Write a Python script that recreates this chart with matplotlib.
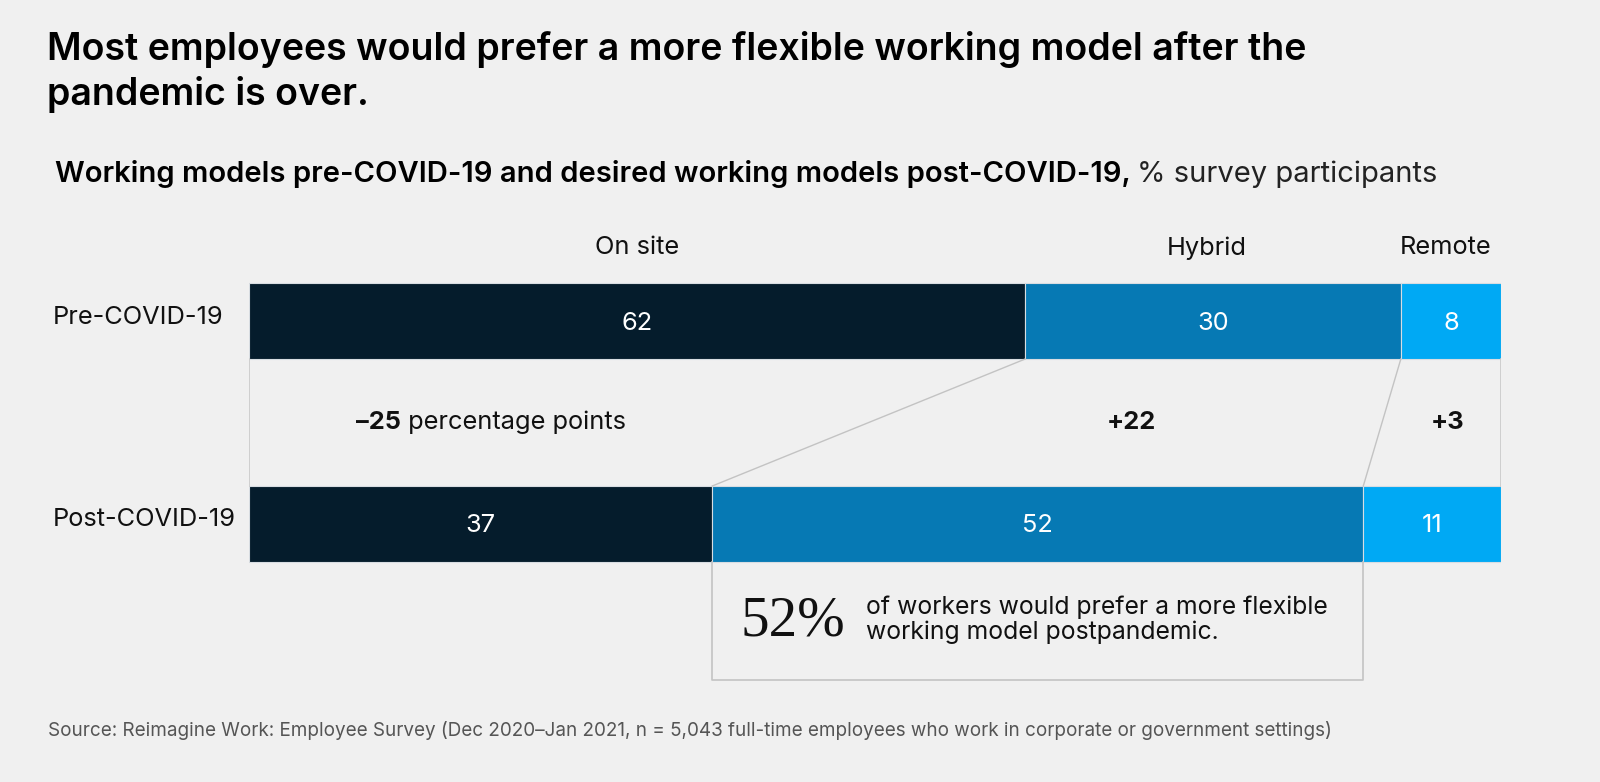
import matplotlib
matplotlib.use("Agg")
import matplotlib.pyplot as plt

# data
models = ["On site", "Hybrid", "Remote"]
periods = ["Pre-COVID-19", "Post-COVID-19"]
pre_values = [62, 30, 8]
post_values = [37, 52, 11]
colours = ["#051c2c", "#0679b4", "#00a9f4"]

W, H = 1600, 782
BG = "#f0f0f0"
TXT = 18.3
plt.rcParams["font.family"] = ["Inter", "DejaVu Sans"]

fig = plt.figure(figsize=(W / 100, H / 100), dpi=100, facecolor=BG)


def fx(px):
    return px / W


def fy(py):
    return 1 - py / H


# axes: x in percent, y in pixels from top
ax = fig.add_axes([fx(249), 0, fx(1501) - fx(249), 1])
ax.set_xlim(0, 100)
ax.set_ylim(H, 0)
ax.axis("off")
ax.patch.set_alpha(0)

rows = {"Pre-COVID-19": (321, pre_values), "Post-COVID-19": (524, post_values)}
bar_h = 76

for name, (yc, vals) in rows.items():
    left = 0
    for v, c in zip(vals, colours):
        ax.barh(yc, v, left=left, height=bar_h, color=c, edgecolor="#d8dde2", linewidth=0.8)
        ax.text(left + v / 2, yc + 2, str(v), ha="center", va="center", color="white", fontsize=TXT)
        left += v
    fig.text(fx(53), fy(yc - 4), name, ha="left", va="center", fontsize=TXT, color="#111111")

# middle band borders
top_band, bot_band = 321 + bar_h / 2, 524 - bar_h / 2
ax.plot([0, 0], [top_band, bot_band], color="#c9c9c9", lw=1.2)
ax.plot([100, 100], [top_band, bot_band], color="#c9c9c9", lw=1.2)

# connector lines between the bars
pre_cum = [sum(pre_values[:i + 1]) for i in range(2)]
post_cum = [sum(post_values[:i + 1]) for i in range(2)]
for a, b in zip(pre_cum, post_cum):
    ax.plot([a, b], [top_band, bot_band], color="#c3c3c3", lw=1.0)

# column headers
header_x = [637, 1207, 1446]
for m, hx in zip(models, header_x):
    fig.text(fx(hx), fy(248), m, ha="center", va="center", fontsize=TXT, color="#111111")

# change labels
diffs = [b - a for a, b in zip(pre_values, post_values)]
yc = (top_band + bot_band) / 2
renderer = fig.canvas.get_renderer()
t_bold = fig.text(0, fy(yc), "\u2013" + str(abs(diffs[0])), ha="left", va="center",
                  fontsize=TXT, fontweight="bold", color="#111111")
t_reg = fig.text(0, fy(yc), " percentage points", ha="left", va="center", fontsize=TXT, color="#111111")
wb = t_bold.get_window_extent(renderer=renderer).width
wr = t_reg.get_window_extent(renderer=renderer).width
centre_px = ax.transData.transform((post_values[0] / 2, 0))[0] + 10
start = centre_px - (wb + wr) / 2
t_bold.set_x(start / W)
t_reg.set_x((start + wb) / W)

pre_mid = [sum(pre_values[:i]) + pre_values[i] / 2 for i in range(3)]
post_mid = [sum(post_values[:i]) + post_values[i] / 2 for i in range(3)]
for i in (1, 2):
    ax.text((pre_mid[i] + post_mid[i]) / 2 + 0.5, yc, "+%d" % diffs[i], ha="center", va="center",
            fontsize=TXT, fontweight="bold", color="#111111")

# annotation box under hybrid post bar
x0, x1 = post_values[0], post_values[0] + post_values[1]
ybot = 680
ax.plot([x0, x0, x1, x1], [524 + bar_h / 2, ybot, ybot, 524 + bar_h / 2], color="#c3c3c3", lw=1.2)
fig.text(fx(740), fy(622), "52%", ha="left", va="center", fontsize=41,
         family=["Liberation Serif"], color="#111111")
fig.text(fx(866), fy(620), "of workers would prefer a more flexible\nworking model postpandemic.",
         ha="left", va="center", fontsize=17.8, color="#111111", linespacing=1.1)

# titles
fig.text(fx(47), fy(31), "Most employees would prefer a more flexible working model after the\npandemic is over.",
         ha="left", va="top", fontsize=27, fontweight="semibold", color="#000000", linespacing=1.27)
sub = fig.text(fx(55), fy(174), "Working models pre-COVID-19 and desired working models post-COVID-19,",
               ha="left", va="center", fontsize=21, fontweight="semibold", color="#000000")
bb = sub.get_window_extent(renderer=renderer)
fig.text(bb.x1 / W + fx(6), fy(174), "% survey participants", ha="left", va="center",
         fontsize=21, color="#222222")

fig.text(fx(48), fy(730), "Source: Reimagine Work: Employee Survey (Dec 2020\u2013Jan 2021, n = 5,043 full-time "
         "employees who work in corporate or government settings)",
         ha="left", va="center", fontsize=13.6, color="#555555")

fig.savefig("out.png", dpi=100, facecolor=BG)
